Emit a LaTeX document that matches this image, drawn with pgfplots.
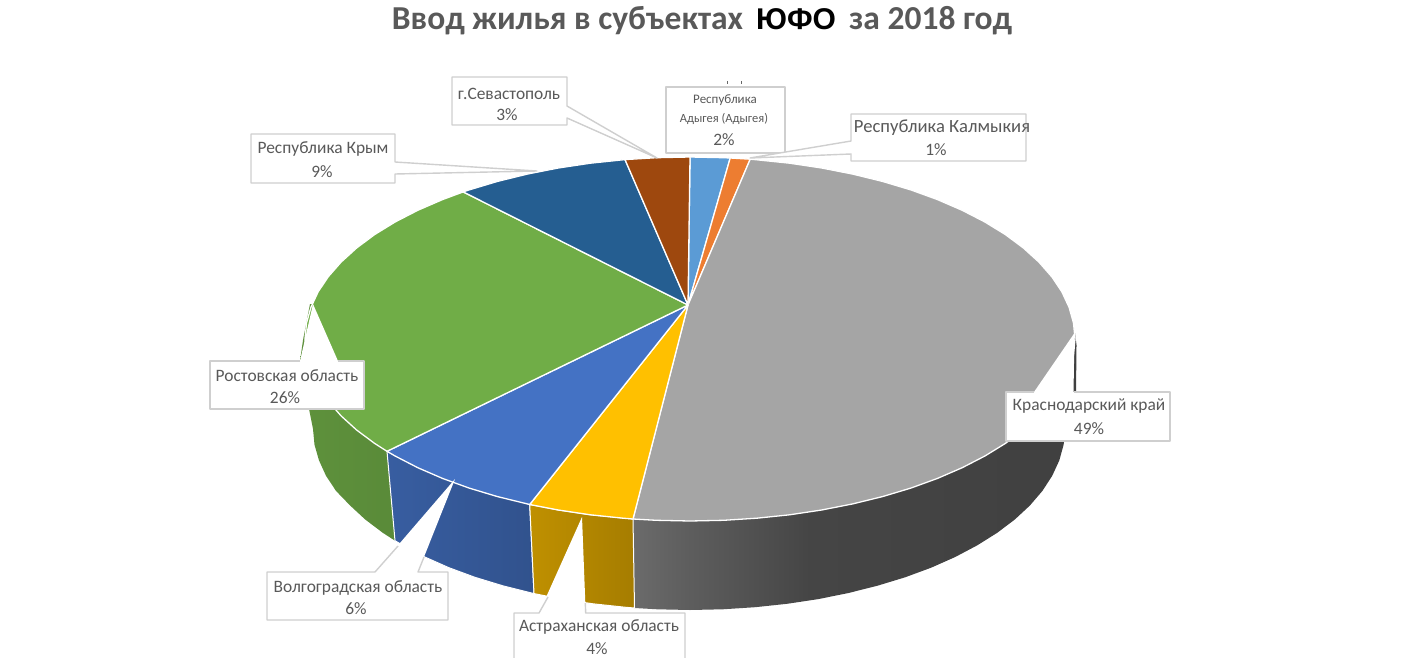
\documentclass[border=0pt]{standalone}
\usepackage{fontspec}
\setmainfont{Carlito}
\newfontfamily\blackfont{Liberation Sans}
\usepackage{pgfplots}
\pgfplotsset{compat=1.18}

\definecolor{adyg}{HTML}{5B9BD5}
\definecolor{kalm}{HTML}{ED7D31}
\definecolor{kras}{HTML}{A5A5A5}
\definecolor{astr}{HTML}{FFC000}
\definecolor{volg}{HTML}{4472C4}
\definecolor{rost}{HTML}{70AD47}
\definecolor{krym}{HTML}{255E91}
\definecolor{sevs}{HTML}{9E480E}
\definecolor{boxline}{HTML}{CFCFCF}
\definecolor{txt}{HTML}{595959}

\pgfdeclarehorizontalshading{krasside}{100bp}{color(0bp)=(rgb:black,107;white,148);
  color(25bp)=(rgb:black,148;white,107);
  color(31bp)=(rgb:black,161;white,94);
  color(45bp)=(rgb:black,186;white,69);
  color(75bp)=(rgb:black,191;white,64);
  color(100bp)=(rgb:black,191;white,64)}

\newcommand{\lbl}[3]{\node[font=\fontsize{17.4}{20}\selectfont, text=txt, yshift=-1.5pt] at (axis cs:#1,#2) {#3};}

\begin{document}
\begin{tikzpicture}
\useasboundingbox (0,0) rectangle (1410pt,658pt);
\begin{axis}[
    at={(0,0)}, anchor=south west,
    scale only axis,
    width=1410pt, height=658pt,
    xmin=0, xmax=1410, ymin=0, ymax=658,
    y dir=reverse,
    hide axis,
    every axis plot/.append style={line join=round},
    ]
% sides, coordinates are pixels of the picture
\addplot[draw=none, left color=rost!84!black, right color=rost!80!black] coordinates {
  (387,451.3) (313,304) (310,304) (303,340) (300,361) (305,395) (309,409) (313,429) (314.5,444.8)
  (319,460.4) (326,475.8) (336,490.9) (350.1,505.5) (365.2,519.5) (382.8,532.8) (395,540.7)} --cycle;
\addplot[draw=white, line width=1pt, left color=volg!82!black, right color=volg!72!black] coordinates {
  (387,451.3) (529.7,504.5) (534,593.6) (531.5,593) (502.5,585.7) (474.9,577.3) (448.9,567.7)
  (424.8,557) (402.7,545.3) (395,540.7)} --cycle;
\addplot[draw=none, shading=krasside] coordinates {
  (633,519) (1075,333) (1076.5,345) (1076,392) (1066,425) (1063.6,444.8) (1059.3,460.4)
  (1052.2,475.8) (1042.4,490.9) (1029.9,505.5) (1014.8,519.5) (997.2,532.8) (977.3,545.3)
  (955.2,557) (931.1,567.7) (905.1,577.3) (877.5,585.7) (848.5,593) (818.3,599.1) (787.1,603.8)
  (755.1,607.2) (722.7,609.3) (690,610) (657.3,609.3) (634.5,608)} --cycle;
\addplot[draw=white, line width=1pt, left color=astr!75!black, right color=astr!65!black] coordinates {
  (529.7,504.5) (558.3,510) (590.4,514.8) (633,519) (634.5,608) (624.9,607.2) (592.9,603.8)
  (561.7,599.1) (534,593.6)} --cycle;

% top face
\addplot[draw=white, line width=1.3pt, fill=adyg] coordinates {
  (688,305) (690,157) (723.6,157.7) (730.2,158)} --cycle;
\addplot[draw=white, line width=1.3pt, fill=kalm] coordinates {
  (688,305) (730.2,158) (750.2,159.2)} --cycle;
\addplot[draw=white, line width=1.3pt, fill=kras] coordinates {
  (688,305) (750.2,159.2) (756.8,159.8) (789.6,163.2) (821.7,168) (852.7,174.1) (882.5,181.4)
  (910.8,189.9) (937.5,199.6) (962.2,210.3) (984.9,222) (1005.4,234.6) (1023.4,248) (1038.9,262.1)
  (1051.8,276.8) (1061.9,291.9) (1069.1,307.4) (1073.5,323.1) (1075,339) (1073.5,354.9)
  (1069.1,370.6) (1061.9,386.1) (1051.8,401.2) (1038.9,415.9) (1023.4,430) (1005.4,443.4)
  (984.9,456) (962.2,467.7) (937.5,478.4) (910.8,488.1) (882.5,496.6) (852.7,503.9) (821.7,510)
  (789.6,514.8) (756.8,518.2) (723.6,520.3) (690,521) (656.4,520.3) (633,519)} --cycle;
\addplot[draw=white, line width=1.3pt, fill=astr] coordinates {
  (688,305) (633,519) (623.2,518.2) (590.4,514.8) (558.3,510) (529.7,504.5)} --cycle;
\addplot[draw=white, line width=1.3pt, fill=volg] coordinates {
  (688,305) (529.7,504.5) (497.5,496.6) (469.2,488.1) (442.5,478.4) (417.8,467.7) (395.1,456)
  (387,451.3)} --cycle;
\addplot[draw=white, line width=1.3pt, fill=rost] coordinates {
  (688,305) (387,451.3) (374.6,443.4) (356.6,430) (341.1,415.9) (328.2,401.2) (318.1,386.1)
  (310.9,370.6) (306.5,354.9) (305,339) (306.5,323.1) (310.9,307.4) (318.1,291.9) (328.2,276.8)
  (341.1,262.1) (356.6,248) (374.6,234.6) (395.1,222) (417.8,210.3) (442.5,199.6) (463.2,191.9)} --cycle;
\addplot[draw=white, line width=1.3pt, fill=krym] coordinates {
  (688,305) (463.2,191.9) (469.2,189.9) (497.5,181.4) (527.3,174.1) (558.3,168) (590.4,163.2)
  (625,159.6)} --cycle;
\addplot[draw=white, line width=1.3pt, fill=sevs] coordinates {
  (688,305) (625,159.6) (656.4,157.7) (690,157)} --cycle;

% callouts: white shape, then the part of the outline that shows
\addplot[fill=white, draw=none] coordinates {(210,361) (300,361) (313,304) (338,361) (364,361) (364,409) (210,409)} --cycle;
\addplot[boxline, line width=1.4pt] coordinates {(300,361) (210,361) (210,409) (364,409) (364,361) (338,361)};

\addplot[fill=white, draw=none] coordinates {(267,572) (375,572) (455,479) (418,572) (448,572) (448,620) (267,620)} --cycle;
\addplot[boxline, line width=1.4pt] coordinates {(398,546) (375,572) (267,572) (267,620) (448,620) (448,572) (418,572) (424,557)};

\addplot[fill=white, draw=none] coordinates {(514,613) (539,613) (582,517) (585.7,613) (685,613) (685,660) (514,660)} --cycle;
\addplot[boxline, line width=1.4pt] coordinates {(548,597) (539,613) (514,613) (514,660)};
\addplot[boxline, line width=1.4pt] coordinates {(685,660) (685,613) (585.7,613) (585.3,603)};

\addplot[fill=white, draw=none] coordinates {(1006,392) (1034,392) (1074.5,333) (1073.5,392) (1170,392) (1170,441) (1006,441)} --cycle;
\addplot[boxline, line width=1.4pt] coordinates {(1034,392) (1006,392) (1006,441) (1170,441) (1170,392) (1073.5,392)};

\addplot[fill=white, draw=none] coordinates {(690,153) (708,158) (725,153)} --cycle;
\addplot[fill=white, draw=boxline, line width=1.4pt] coordinates {(666,87) (785,87) (785,153) (666,153)} --cycle;

\addplot[fill=white, draw=boxline, line width=1.4pt] coordinates {(851,141) (851,114) (1026,114) (1026,161) (851,161) (851,154) (750,158)} --cycle;
\addplot[fill=white, draw=boxline, line width=1.4pt] coordinates {(567,106) (567,77) (452,77) (452,125) (567,125) (567,118) (657,158)} --cycle;
\addplot[fill=white, draw=boxline, line width=1.4pt] coordinates {(395,162) (395,134) (251,134) (251,183) (395,183) (395,174) (537,171)} --cycle;

% clipped bits above the Adygea box
\addplot[black!60, line width=0.8pt] coordinates {(727,81) (727,84)};
\addplot[black!60, line width=0.8pt] coordinates {(741,81) (741,84)};

\node[font=\fontsize{33.5}{36}\selectfont\bfseries, text=txt] at (axis cs:702,21)
  {Ввод жилья в субъектах\, {\blackfont\fontsize{30}{36}\selectfont\color{black}ЮФО}\, за 2018 год};

\lbl{509}{92}{г.Севастополь}
\lbl{507}{113}{3\%}
\lbl{323}{147}{Республика Крым}
\lbl{322}{170}{9\%}
\node[font=\fontsize{18.6}{20}\selectfont, text=txt, yshift=-1.5pt] at (axis cs:942,126) {Республика Калмыкия};
\lbl{936}{148}{1\%}
\lbl{287}{374}{Ростовская область}
\lbl{285}{396}{26\%}
\lbl{358}{586}{Волгоградская область}
\lbl{356}{607}{6\%}
\lbl{599}{625}{Астраханская область}
\lbl{597}{647}{4\%}
\lbl{1089}{405}{Краснодарский край}
\lbl{1089}{427}{49\%}
\node[font=\fontsize{13}{13}\selectfont, text=txt] at (axis cs:725,100) {Республика};
\node[font=\fontsize{12.5}{13}\selectfont, text=txt] at (axis cs:724,119) {Адыгея  (Адыгея)};
\lbl{724}{138}{2\%}
\end{axis}
\end{tikzpicture}
\end{document}
